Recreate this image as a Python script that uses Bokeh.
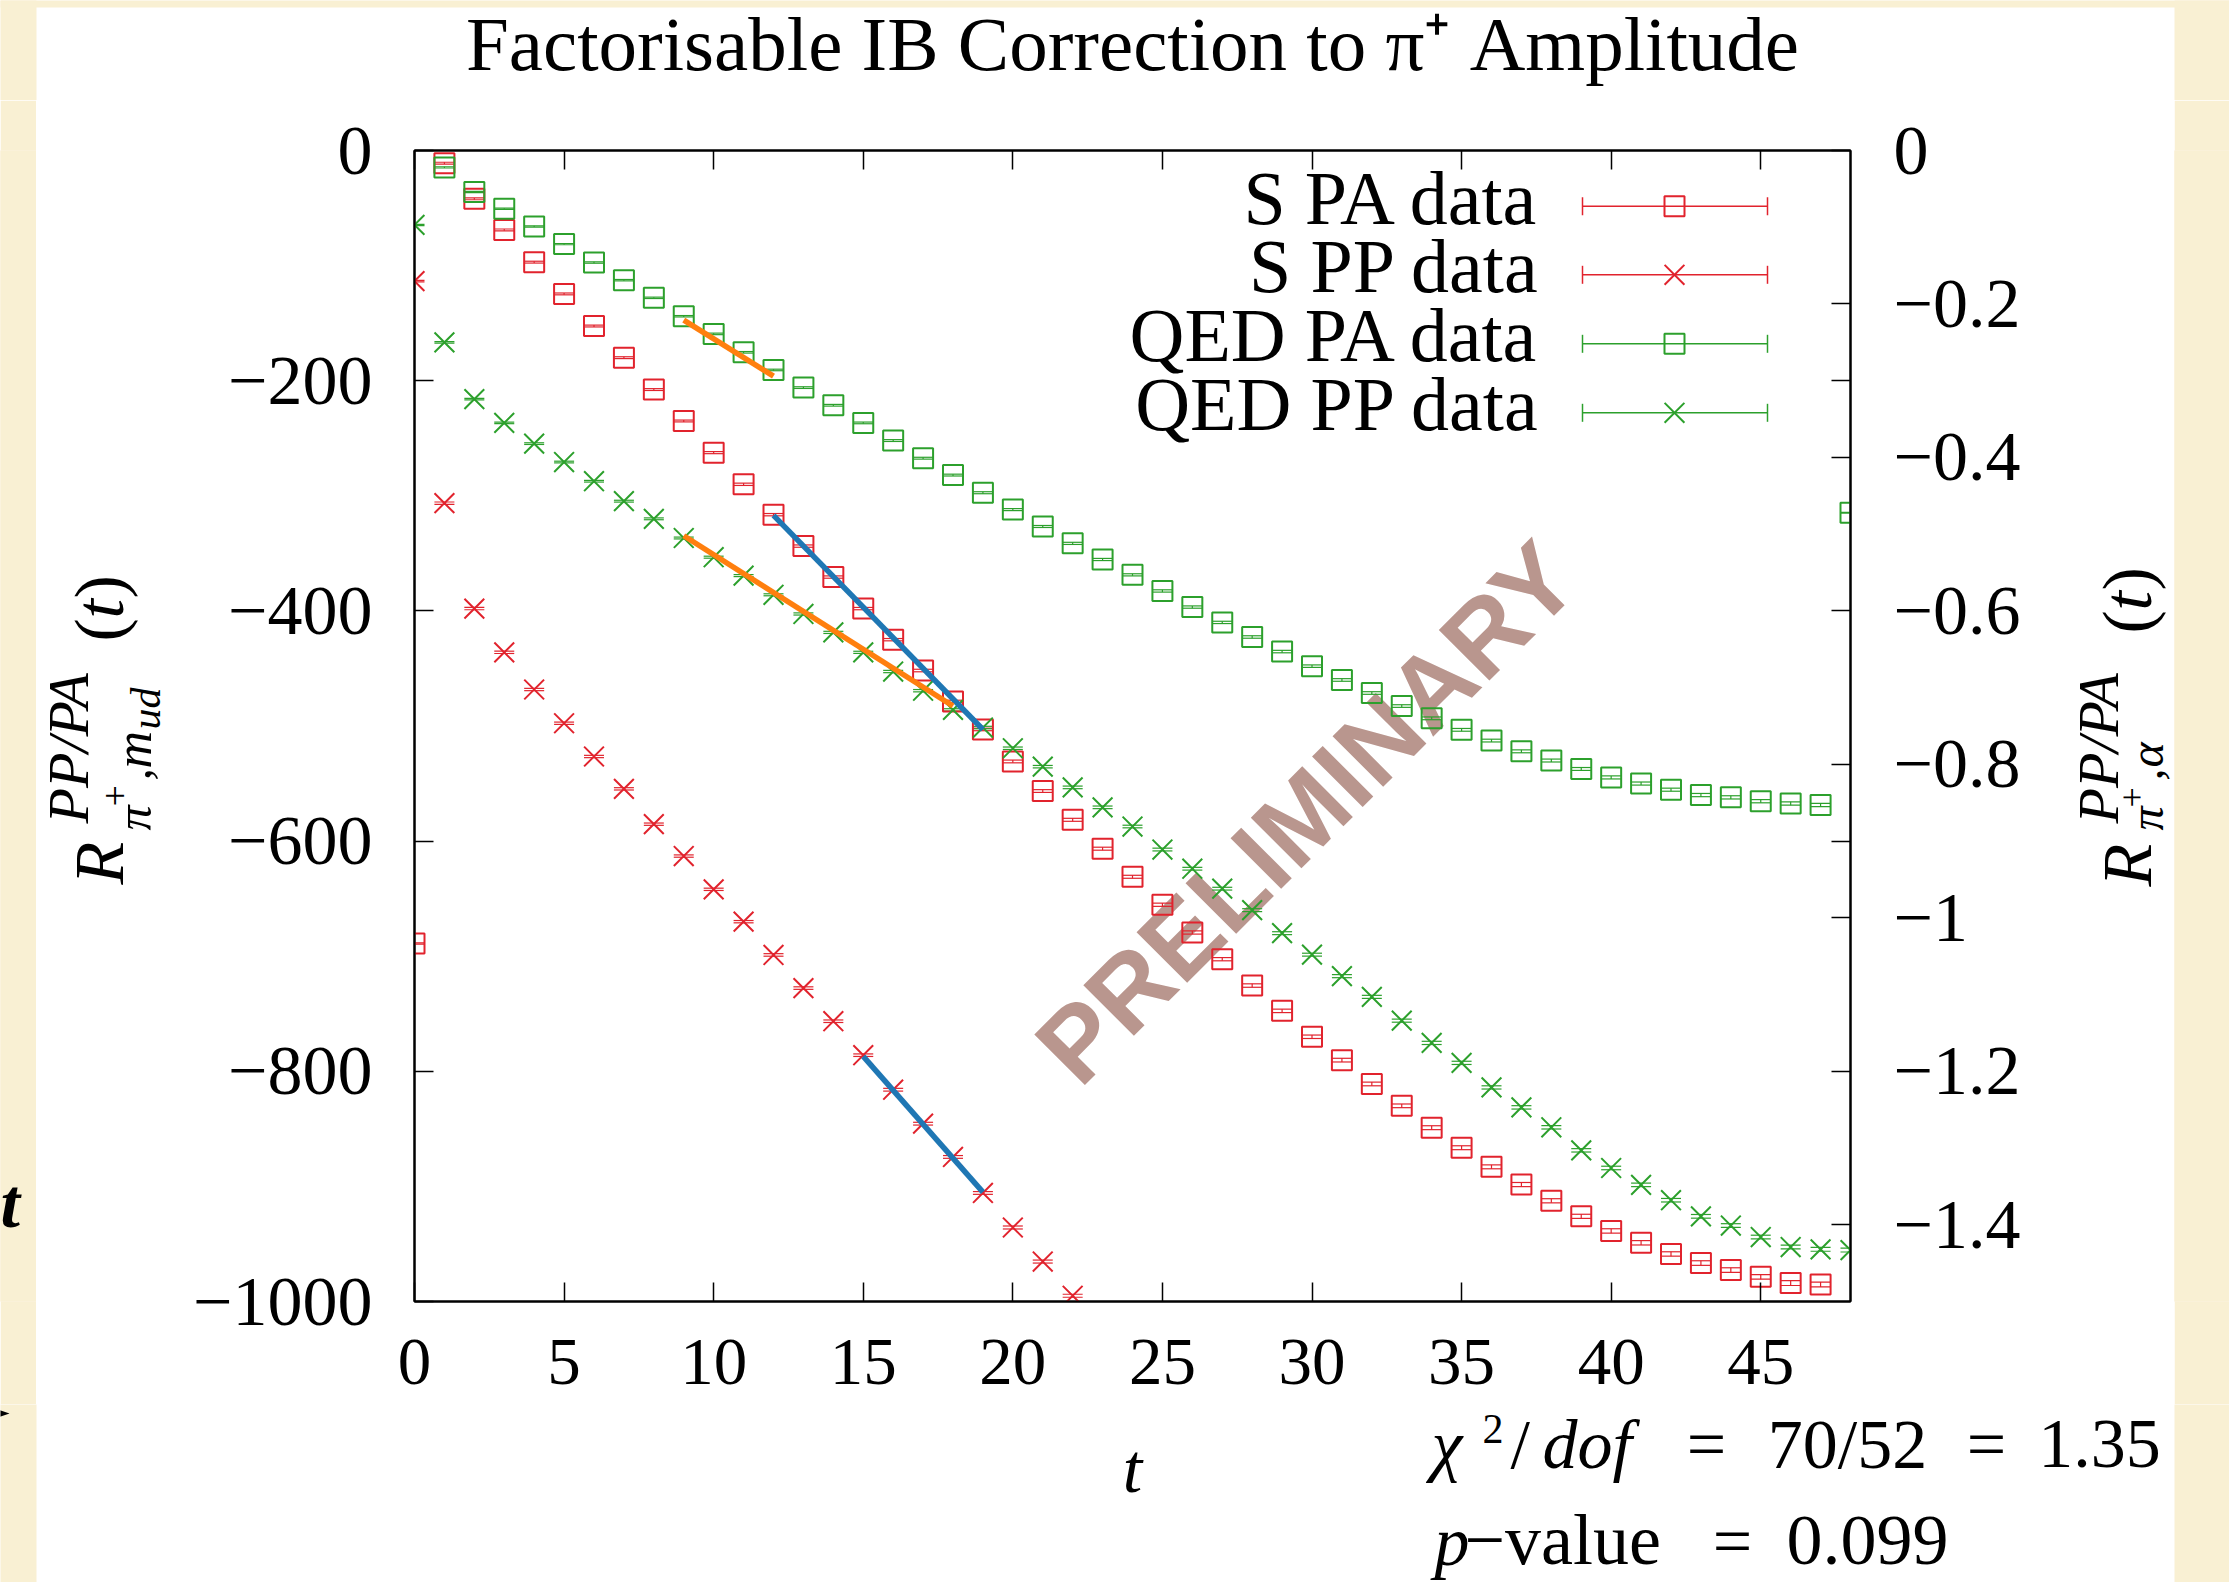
import math
from bokeh.plotting import figure
from bokeh.layouts import column, row
from bokeh.models import (Range1d, LinearAxis, FixedTicker, Label,
                          Whisker, TeeHead, ColumnDataSource)
from bokeh.embed import file_html
from bokeh.resources import INLINE

# ---------------- data ----------------
t_s_pa = list(range(0, 48))
s_pa = [-689, -11, -42, -69, -97, -124.6, -152.5, -180, -207.7, -235,
        -262.5, -290, -316.4, -343.7, -370.6, -398, -425, -451.8, -478.7, -503,
        -530.8, -556.5, -581.5, -606.6, -631, -655.3, -679.4, -702.6, -725.5, -747.5,
        -770, -790.3, -811, -830, -849, -866.4, -883, -898.4, -912.5, -926,
        -938.7, -949, -958.7, -966.6, -972.7, -978.6, -984, -985.2]
s_pa_err = [0.5, 0.8, 0.8, 0.8, 0.8, 0.8, 0.8, 0.8, 0.8, 0.8,
            0.9, 1.0, 1.0, 1.0, 1.0, 1.0, 1.0, 1.1, 1.1, 1.1,
            1.2, 1.2, 1.3, 1.3, 1.3, 1.4, 1.4, 1.4, 1.5, 1.5,
            1.5, 1.6, 1.6, 1.6, 1.7, 1.7, 1.7, 1.8, 1.8, 1.8,
            1.9, 1.9, 1.9, 2.0, 2.0, 2.0, 2.1, 2.1]

t_s_pp = list(range(0, 23))
s_pp = [-113.5, -306.4, -398, -436, -468.3, -497.6, -526.5, -554.6, -585.3, -613,
        -641.9, -670, -698.9, -727.7, -756.5, -786, -816, -845.5, -874.4, -905.7,
        -935.7, -965.3, -995]
s_pp_err = [0.6, 1.0, 1.0, 1.0, 1.0, 1.0, 1.0, 1.0, 1.0, 1.0,
            1.0, 1.0, 1.1, 1.1, 1.1, 1.1, 1.2, 1.2, 1.2, 1.2,
            1.3, 1.3, 1.3]

t_qed_pa = list(range(1, 49))
qed_pa = [-0.022, -0.054, -0.076, -0.099, -0.122, -0.146, -0.169, -0.192, -0.216, -0.239,
          -0.263, -0.286, -0.309, -0.332, -0.355, -0.378, -0.401, -0.423, -0.446, -0.468,
          -0.490, -0.512, -0.533, -0.553, -0.574, -0.595, -0.615, -0.634, -0.653, -0.672,
          -0.690, -0.707, -0.724, -0.740, -0.755, -0.769, -0.783, -0.795, -0.806, -0.817,
          -0.825, -0.833, -0.840, -0.843, -0.848, -0.851, -0.853, -0.472]
qed_pa_err = [0.0008, 0.0008, 0.0008, 0.0008, 0.0008, 0.0009, 0.0009, 0.0009, 0.0009, 0.0010,
              0.0010, 0.0010, 0.0011, 0.0011, 0.0011, 0.0012, 0.0012, 0.0012, 0.0013, 0.0013,
              0.0013, 0.0014, 0.0014, 0.0014, 0.0015, 0.0015, 0.0015, 0.0016, 0.0016, 0.0016,
              0.0017, 0.0017, 0.0017, 0.0018, 0.0018, 0.0018, 0.0019, 0.0019, 0.0019, 0.0020,
              0.0020, 0.0020, 0.0021, 0.0021, 0.0021, 0.0022, 0.0022, 0.0005]

t_qed_pp = list(range(0, 49))
qed_pp = [-0.097, -0.250, -0.324, -0.355, -0.382, -0.406, -0.431, -0.457, -0.480, -0.505,
          -0.530, -0.554, -0.579, -0.604, -0.628, -0.654, -0.679, -0.704, -0.729, -0.752,
          -0.779, -0.803, -0.830, -0.856, -0.881, -0.911, -0.936, -0.962, -0.990, -1.020,
          -1.048, -1.076, -1.103, -1.134, -1.163, -1.189, -1.221, -1.247, -1.273, -1.303,
          -1.326, -1.348, -1.368, -1.389, -1.401, -1.416, -1.429, -1.432, -1.433]
qed_pp_err = [0.0008, 0.0010, 0.0010, 0.0010, 0.0011, 0.0011, 0.0011, 0.0012, 0.0012, 0.0012,
              0.0013, 0.0013, 0.0013, 0.0014, 0.0014, 0.0014, 0.0015, 0.0015, 0.0015, 0.0016,
              0.0016, 0.0016, 0.0017, 0.0017, 0.0017, 0.0018, 0.0018, 0.0018, 0.0019, 0.0019,
              0.0019, 0.0020, 0.0020, 0.0020, 0.0021, 0.0021, 0.0021, 0.0022, 0.0022, 0.0022,
              0.0023, 0.0023, 0.0023, 0.0024, 0.0024, 0.0024, 0.0025, 0.0025, 0.0025]

# fitted lines (end points)
fit_s_pa_t = [12, 19]
fit_s_pa = [-317, -503]
fit_s_pp_t = [15, 19]
fit_s_pp = [-787, -905]
fit_qed_pa_t = [9, 12]
fit_qed_pa = [-0.221, -0.294]
fit_qed_pp_t = [9, 18]
fit_qed_pp = [-0.502, -0.724]

x_ticks = [0, 5, 10, 15, 20, 25, 30, 35, 40, 45]
yl_ticks = [0, -200, -400, -600, -800, -1000]
yl_labels = ["0", "\u2212200", "\u2212400", "\u2212600", "\u2212800", "\u22121000"]
yr_ticks = [0, -0.2, -0.4, -0.6, -0.8, -1.0, -1.2, -1.4]
yr_labels = ["0", "\u22120.2", "\u22120.4", "\u22120.6", "\u22120.8", "\u22121", "\u22121.2", "\u22121.4"]
legend_labels = ["S PA data", "S PP data", "QED PA data", "QED PP data"]

title_text = "Factorisable IB Correction to \u03c0\u207a Amplitude"
watermark = "PRELIMINARY"

# ---------------- styling / layout ----------------
W, H = 2229, 1582
FX0, FX1, FY0, FY1 = 414, 1850, 150, 1301          # plot box on the page
MX0, MX1, MY0, MY1 = 180, 2030, 100, 1404          # main figure on the page
PANEL = (36, 2174, 7)                              # white slide panel (left, right, top)
XR = (0, 48)
YL = (-1000, 0)
YR = (-1.5, 0)
BEIGE = "#f9f0d3"
RED = "#e1232d"
GREEN = "#2ca02c"
BLUE = "#1f77b4"
ORANGE = "#ff7f0e"
SERIF = "Liberation Serif"
MID = 0.335   # baseline -> middle of the text box, in em


def px_x(px):
    return XR[0] + (px - FX0) * (XR[1] - XR[0]) / (FX1 - FX0)


def px_y(py):
    return YL[1] + (py - FY0) * (YL[0] - YL[1]) / (FY1 - FY0)


def put(fig, s, x, y, size=70, style="normal", align="left", rot=False, conv=None):
    """x, y: page pixel position of the text baseline (start or centre)."""
    k = MID * size
    ax, ay = (x - k, y) if rot else (x, y - k)
    if conv is not None:
        ax, ay = conv(ax, ay)
    fig.add_layout(Label(x=ax, y=ay, text=s, angle=(math.pi / 2 if rot else 0.0),
                         text_align=align, text_baseline="middle", text_font=SERIF,
                         text_font_size=f"{size}px", text_font_style=style,
                         text_color="black"))


def bare(width, height, xr, yr, fill, borders=(0, 0, 0, 0)):
    f = figure(width=width, height=height, x_range=Range1d(*xr), y_range=Range1d(*yr),
               output_backend="svg", toolbar_location=None,
               x_axis_location=None, y_axis_location=None,
               min_border_top=borders[0], min_border_right=borders[1],
               min_border_bottom=borders[2], min_border_left=borders[3],
               border_fill_color=fill, background_fill_color=fill,
               outline_line_color=None)
    f.grid.visible = False
    return f


def band(gy0, gy1):
    """full-width strip (page pixel coordinates, y downwards)"""
    f = bare(W, gy1 - gy0, (0, W), (gy1, gy0), "white")
    f.quad(left=[-50, PANEL[1], -50], right=[PANEL[0], W + 50, W + 50],
           top=[-50, -50, -50], bottom=[H + 50, H + 50, PANEL[2]],
           fill_color=BEIGE, line_color=None)
    return f


def side(gx0, gx1, fill):
    """vertical strip beside the plot; its frame spans the plot box height"""
    f = bare(gx1 - gx0, MY1 - MY0, (gx0, gx1), (FY1, FY0), fill,
             borders=(FY0 - MY0, 0, MY1 - FY1, 0))
    f.quad(left=[gx0 - 5], right=[gx1 + 5], top=[FY0 - 5], bottom=[FY1 + 5],
           fill_color=fill, line_color=None)
    return f


# ---------------- main plot ----------------
p = figure(width=MX1 - MX0, height=MY1 - MY0, x_range=Range1d(*XR), y_range=Range1d(*YL),
           output_backend="svg", toolbar_location=None,
           x_axis_location=None, y_axis_location=None,
           min_border_left=FX0 - MX0, min_border_right=MX1 - FX1,
           min_border_top=FY0 - MY0, min_border_bottom=MY1 - FY1,
           border_fill_color="white", background_fill_color="white",
           outline_line_color="black", outline_line_width=2)
p.extra_y_ranges = {"r": Range1d(*YR)}
p.grid.visible = False


def style_axis(ax, standoff, size="70px"):
    ax.axis_line_width = 2
    ax.axis_line_color = "black"
    ax.major_tick_in = 19
    ax.major_tick_out = 0
    ax.major_tick_line_width = 1.5
    ax.minor_tick_line_color = None
    ax.major_label_text_font = SERIF
    ax.major_label_text_font_size = size
    ax.major_label_text_color = "black"
    ax.major_label_standoff = standoff


ax_b = LinearAxis(ticker=FixedTicker(ticks=x_ticks))
style_axis(ax_b, 38, "67px")
p.add_layout(ax_b, "below")

ax_t = LinearAxis(ticker=FixedTicker(ticks=x_ticks),
                  major_label_overrides={v: "" for v in x_ticks})
style_axis(ax_t, 0, "1px")
p.add_layout(ax_t, "above")

ax_l = LinearAxis(ticker=FixedTicker(ticks=yl_ticks),
                  major_label_overrides=dict(zip(yl_ticks, yl_labels)))
style_axis(ax_l, 42)
p.add_layout(ax_l, "left")

# right axis: its own ticks plus the mirrored left-axis ticks
scale_lr = (YR[0] - YR[1]) / (YL[0] - YL[1])
mirror = [v * scale_lr for v in yl_ticks[1:-1]]
extra = [m for m in mirror if all(abs(m - r) > 1e-9 for r in yr_ticks)]
r_over = dict(zip(yr_ticks, yr_labels))
r_over.update({m: "" for m in extra})
ax_r = LinearAxis(y_range_name="r", ticker=FixedTicker(ticks=sorted(yr_ticks + extra)),
                  major_label_overrides=r_over)
style_axis(ax_r, 43)
p.add_layout(ax_r, "right")

# watermark (under the data)
p.add_layout(Label(x=px_x(1306), y=px_y(812), text=watermark, angle=math.pi / 4,
                   text_align="center", text_baseline="middle",
                   text_font="Liberation Sans", text_font_size="104px",
                   text_font_style="bold", text_color="#b9968e", level="underlay"))


def series(t, v, e, color, marker, size, rng):
    kw = {} if rng is None else {"y_range_name": rng}
    src = ColumnDataSource(dict(t=t, v=v,
                                lo=[a - b for a, b in zip(v, e)],
                                hi=[a + b for a, b in zip(v, e)]))
    p.add_layout(Whisker(source=src, base="t", lower="lo", upper="hi",
                         line_color=color, line_width=1.2,
                         lower_head=TeeHead(size=20, line_color=color, line_width=1.2),
                         upper_head=TeeHead(size=20, line_color=color, line_width=1.2),
                         **kw))
    p.scatter("t", "v", source=src, marker=marker, size=size, fill_color=None,
              line_color=color, line_width=2, **kw)


series(t_s_pa, s_pa, s_pa_err, RED, "square", 20, None)
series(t_s_pp, s_pp, s_pp_err, RED, "x", 28, None)
series(t_qed_pa, qed_pa, qed_pa_err, GREEN, "square", 20, "r")
series(t_qed_pp, qed_pp, qed_pp_err, GREEN, "x", 28, "r")

p.line(fit_s_pa_t, fit_s_pa, line_color=BLUE, line_width=5.5)
p.line(fit_s_pp_t, fit_s_pp, line_color=BLUE, line_width=5.5)
p.line(fit_qed_pa_t, fit_qed_pa, line_color=ORANGE, line_width=5.5, y_range_name="r")
p.line(fit_qed_pp_t, fit_qed_pp, line_color=ORANGE, line_width=5.5, y_range_name="r")

# legend, gnuplot style: text on the left, errorbar sample on the right
leg_rows = [205.7, 274.3, 343.3, 412.3]
leg_colors = [RED, RED, GREEN, GREEN]
leg_markers = ["square", "x", "square", "x"]
leg_sizes = [20, 28, 20, 28]
to_data = lambda a, b: (px_x(a), px_y(b))
for lab, py, col, mk, ms in zip(legend_labels, leg_rows, leg_colors, leg_markers, leg_sizes):
    put(p, lab, 1540, py + 17, size=76, align="right", conv=to_data)
    p.segment(x0=[px_x(1582)], y0=[px_y(py)], x1=[px_x(1767)], y1=[px_y(py)],
              line_color=col, line_width=1.5)
    p.segment(x0=[px_x(1582), px_x(1767)], y0=[px_y(py - 9)] * 2,
              x1=[px_x(1582), px_x(1767)], y1=[px_y(py + 9)] * 2,
              line_color=col, line_width=1.5)
    p.scatter([px_x(1674)], [px_y(py)], marker=mk, size=ms, fill_color=None,
              line_color=col, line_width=2)

# ---------------- surrounding strips with the texts ----------------
top = band(0, MY0)
bottom = band(MY1, H)
beige_l = side(0, PANEL[0], BEIGE)
left = side(PANEL[0], MX0, "white")
right = side(MX1, PANEL[1], "white")
beige_r = side(PANEL[1], W, BEIGE)

put(top, title_text, 1132, 69, size=77, align="center")

# left y-axis label (rotated), R^{PP/PA}_{pi+, m_ud}(t)
put(left, "R", 122, 884, rot=True, style="italic")
put(left, "PP/PA", 87, 823, size=58, style="italic", rot=True)
put(left, "\u03c0", 150, 830, size=50, style="italic", rot=True)
put(left, "+", 128, 806, size=38, rot=True)
put(left, ",", 150, 780, size=50, style="italic", rot=True)
put(left, "m", 150, 768, size=52, style="italic", rot=True)
put(left, "ud", 160, 729, size=42, style="italic", rot=True)
put(left, "(", 122, 641, rot=True)
put(left, "t", 122, 618, style="italic", rot=True)
put(left, ")", 122, 598, rot=True)
# leftovers of the slide behind the plot
put(beige_l, "t", 0, 1226, size=70, style="bold italic")
bottom.patch(x=[-6, 9, -6], y=[1408, 1413, 1418], fill_color="black", line_color=None)

# right y-axis label (rotated), R^{PP/PA}_{pi+, alpha}(t)
put(right, "R", 2150, 886, rot=True, style="italic")
put(right, "PP/PA", 2117, 823, size=58, style="italic", rot=True)
put(right, "\u03c0", 2162, 830, size=48, style="italic", rot=True)
put(right, "+", 2144, 807, size=36, rot=True)
put(right, ",", 2162, 780, size=48, style="italic", rot=True)
put(right, "\u03b1", 2162, 767, size=48, style="italic", rot=True)
put(right, "(", 2150, 633, rot=True)
put(right, "t", 2150, 610, style="italic", rot=True)
put(right, ")", 2150, 590, rot=True)

# x label and fit quality
put(bottom, "t", 1132, 1491, style="italic", align="center")
put(bottom, "\u03c7", 1431, 1467, size=70, style="italic")
put(bottom, "2", 1482, 1443, size=42)
put(bottom, "/", 1510, 1467, size=70)
put(bottom, "dof", 1542, 1467, size=70, style="italic")
put(bottom, "=", 1706, 1467, size=70, align="center")
put(bottom, "70/52", 1847, 1467, size=70, align="center")
put(bottom, "=", 1986, 1467, size=70, align="center")
put(bottom, "1.35", 2099, 1467, size=70, align="center")
put(bottom, "p", 1434, 1564, size=70, style="italic")
put(bottom, "\u2212value", 1464, 1564, size=72)
put(bottom, "=", 1732, 1564, size=70, align="center")
put(bottom, "0.099", 1867, 1564, size=72, align="center")

page = column(top, row(beige_l, left, p, right, beige_r), bottom)
open("out.html", "w").write(file_html(page, INLINE))
